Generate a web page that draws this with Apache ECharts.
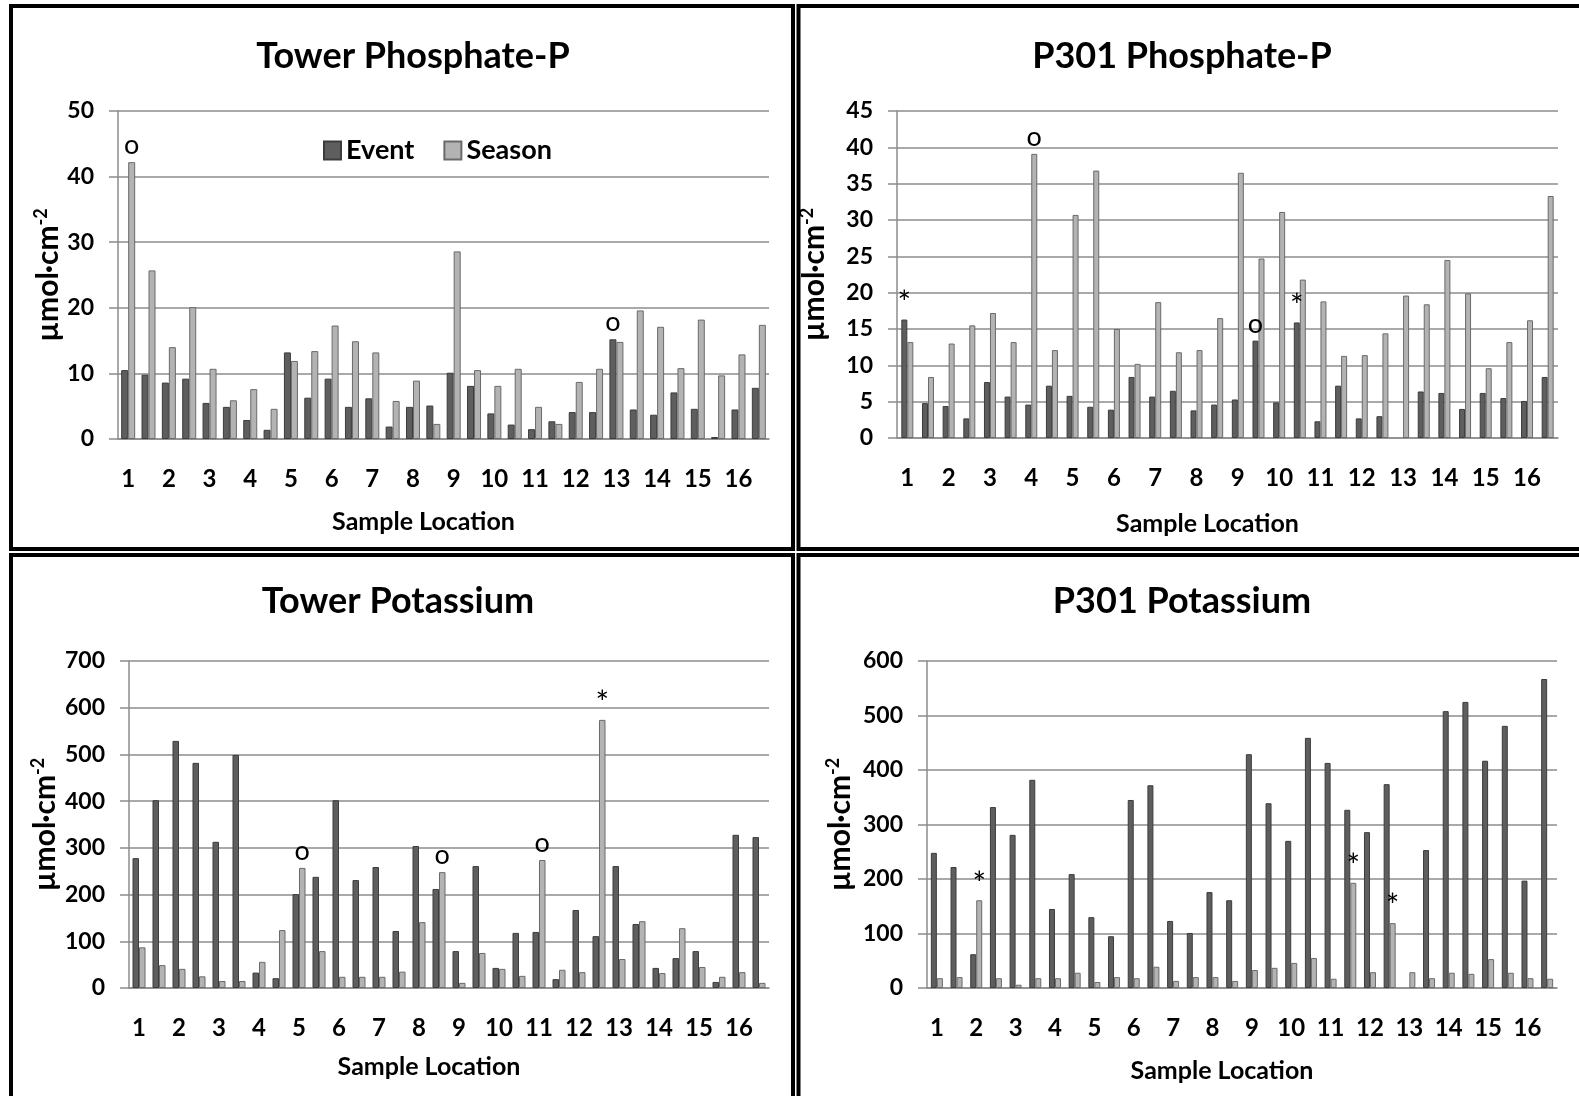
<!DOCTYPE html>
<html>
<head>
<meta charset="utf-8">
<script src="https://cdn.jsdelivr.net/npm/echarts@6.0.0/dist/echarts.min.js"></script>
<style>
  html, body { margin: 0; padding: 0; background: #fff; }
  #main { width: 1579px; height: 1096px; }
</style>
</head>
<body>
<div id="main"></div>
<script>
// 16 sample locations, two slots each
var locations = ['1','2','3','4','5','6','7','8','9','10','11','12','13','14','15','16'];

// Tower Phosphate-P
var towerP_event  = [10.5, 9.8, 8.6, 9.2, 5.5, 4.9, 2.9, 1.4, 13.2, 6.3, 9.2, 4.9, 6.2, 1.9, 4.9, 5.1,
                     10.1, 8.1, 3.9, 2.2, 1.5, 2.7, 4.1, 4.1, 15.2, 4.5, 3.7, 7.1, 4.6, 0.3, 4.5, 7.8];
var towerP_season = [42.2, 25.7, 14.0, 20.1, 10.7, 5.9, 7.6, 4.6, 11.9, 13.4, 17.3, 14.9, 13.2, 5.8, 8.9, 2.3,
                     28.6, 10.5, 8.1, 10.7, 4.9, 2.3, 8.7, 10.7, 14.8, 19.6, 17.1, 10.8, 18.2, 9.7, 12.9, 17.4];
var towerP_marks  = [[0, 'season', 'o'], [24, 'event', 'o']];

// P301 Phosphate-P
var p301P_event  = [16.3, 4.8, 4.4, 2.7, 7.7, 5.7, 4.6, 7.2, 5.8, 4.3, 3.9, 8.4, 5.7, 6.5, 3.8, 4.6,
                    5.3, 13.4, 4.9, 15.9, 2.3, 7.2, 2.7, 3.0, null, 6.4, 6.2, 4.0, 6.2, 5.5, 5.1, 8.4];
var p301P_season = [13.2, 8.4, 13.0, 15.5, 17.2, 13.2, 39.1, 12.1, 30.7, 36.8, 15.0, 10.2, 18.7, 11.8, 12.1, 16.5,
                    36.5, 24.7, 31.1, 21.8, 18.8, 11.3, 11.4, 14.4, 19.6, 18.4, 24.5, 19.9, 9.6, 13.2, 16.2, 33.3];
var p301P_marks  = [[0, 'event', '*'], [6, 'season', 'o'], [17, 'event', 'o'], [19, 'event', '*']];

// Tower Potassium
var towerK_event  = [278, 402, 529, 482, 313, 499, 33, 21, 201, 238, 402, 231, 259, 122, 304, 212,
                     79, 261, 43, 118, 120, 19, 167, 111, 261, 137, 43, 64, 79, 13, 328, 323];
var towerK_season = [87, 49, 41, 25, 15, 15, 56, 124, 257, 79, 24, 24, 24, 35, 141, 248,
                     11, 75, 41, 26, 274, 39, 34, 574, 62, 143, 32, 128, 45, 24, 34, 11];
var towerK_marks  = [[8, 'season', 'o'], [15, 'season', 'o'], [20, 'season', 'o'], [23, 'season', '*']];

// P301 Potassium
var p301K_event  = [248, 222, 62, 332, 281, 382, 145, 209, 130, 95, 345, 372, 123, 101, 176, 161,
                    429, 339, 270, 459, 413, 327, 286, 374, null, 253, 508, 525, 417, 481, 197, 567];
var p301K_season = [18, 20, 161, 18, 6, 18, 18, 28, 11, 20, 18, 39, 13, 20, 20, 13,
                    33, 37, 46, 55, 17, 193, 29, 119, 29, 18, 28, 26, 53, 28, 18, 17];
var p301K_marks  = [[2, 'season', '*'], [21, 'season', '*'], [23, 'season', '*']];

var FONT = 'Lato, "Noto Sans", sans-serif';
var GRID_COLOR = '#8c8c8c';

var categories = [];
locations.forEach(function (l) { categories.push(l, l); });

function withMarks(values, marks, which) {
	return values.map(function (v, i) {
		var m = marks.filter(function (k) { return k[0] === i && k[1] === which; })[0];
		if (!m) return v;
		return {
			value: v,
			label: {
				show: true, position: 'top', distance: m[2] === '*' ? 0 : 3,
				formatter: m[2], color: '#000',
				fontFamily: FONT, fontSize: m[2] === '*' ? 32 : 27
			}
		};
	});
}

function xAxis(gi, gap) {
	return {
		type: 'category', gridIndex: gi, data: categories,
		axisLine: { lineStyle: { color: GRID_COLOR, width: 1.5 } },
		axisTick: { interval: 0, length: 9, lineStyle: { color: GRID_COLOR, width: 1.5 } },
		axisLabel: { interval: 1, margin: 28, color: '#000', fontFamily: FONT, fontWeight: 'bold', fontSize: 24 },
		name: 'Sample Location', nameLocation: 'middle', nameGap: gap,
		nameTextStyle: { color: '#000', fontFamily: FONT, fontWeight: 'bold', fontSize: 25, padding: [0, 40, 0, 0] }
	};
}

function yAxis(gi, max, interval, gap) {
	return {
		type: 'value', gridIndex: gi, min: 0, max: max, interval: interval,
		axisLine: { show: true, lineStyle: { color: GRID_COLOR, width: 1.5 } },
		axisTick: { show: true, length: 9, lineStyle: { color: GRID_COLOR, width: 1.5 } },
		splitLine: { lineStyle: { color: GRID_COLOR, width: 1.5 } },
		axisLabel: { margin: 24, color: '#000', fontFamily: FONT, fontWeight: 'bold', fontSize: 23 },
		name: '{a|µmol·cm}{s|-2}', nameLocation: 'middle', nameRotate: 90, nameGap: gap,
		nameTextStyle: {
			rich: {
				a: { color: '#000', fontFamily: FONT, fontWeight: 'bold', fontSize: 30, lineHeight: 32 },
				s: { color: '#000', fontFamily: FONT, fontWeight: 'bold', fontSize: 18, verticalAlign: 'top', lineHeight: 32 }
			}
		}
	};
}

function bars(gi, name, values, marks, which, color, border, width) {
	return {
		name: name, type: 'bar', xAxisIndex: gi, yAxisIndex: gi,
		barWidth: width, barGap: '0%',
		itemStyle: { color: color, borderColor: border, borderWidth: 1 },
		data: withMarks(values, marks, which)
	};
}

var EVENT_C = '#5e5e5e', EVENT_B = '#3c3c3c';
var SEASON_C = '#b3b3b3', SEASON_B = '#6a6a6a';

function titleText(x, y, text) {
	return {
		type: 'text', x: x, y: y,
		style: { text: text, fill: '#000', font: 'bold 36px ' + FONT, textAlign: 'center', textVerticalAlign: 'middle' }
	};
}

var myChart = echarts.init(document.getElementById('main'));

option = {
	backgroundColor: '#fff',
	animation: false,
	legend: {
		data: ['Event', 'Season'],
		icon: 'rect',
		left: 318, top: 132,
		itemWidth: 17, itemHeight: 18, itemGap: 29,
		textStyle: { color: '#000', fontFamily: FONT, fontWeight: 'bold', fontSize: 27 }
	},
	grid: [
		{ left: 118, top: 111, width: 651, height: 328 },
		{ left: 897, top: 111, width: 661, height: 327 },
		{ left: 129, top: 661, width: 640, height: 327 },
		{ left: 927, top: 661, width: 630, height: 327 }
	],
	xAxis: [xAxis(0, 70), xAxis(1, 73), xAxis(2, 66), xAxis(3, 70)],
	yAxis: [yAxis(0, 50, 10, 54), yAxis(1, 45, 5, 67), yAxis(2, 700, 100, 68), yAxis(3, 600, 100, 71)],
	series: [
		bars(0, 'Event', towerP_event, towerP_marks, 'event', EVENT_C, EVENT_B, 7),
		bars(0, 'Season', towerP_season, towerP_marks, 'season', SEASON_C, SEASON_B, 7),
		bars(1, 'Event', p301P_event, p301P_marks, 'event', EVENT_C, EVENT_B, 6),
		bars(1, 'Season', p301P_season, p301P_marks, 'season', SEASON_C, SEASON_B, 6),
		bars(2, 'Event', towerK_event, towerK_marks, 'event', EVENT_C, EVENT_B, 6.5),
		bars(2, 'Season', towerK_season, towerK_marks, 'season', SEASON_C, SEASON_B, 6.5),
		bars(3, 'Event', p301K_event, p301K_marks, 'event', EVENT_C, EVENT_B, 6),
		bars(3, 'Season', p301K_season, p301K_marks, 'season', SEASON_C, SEASON_B, 6)
	],
	graphic: [
		// panel frames
		{ type: 'rect', shape: { x: 11, y: 6, width: 782, height: 543 }, style: { fill: null, stroke: '#000', lineWidth: 4 } },
		{ type: 'rect', shape: { x: 798.5, y: 6, width: 800, height: 543 }, style: { fill: null, stroke: '#000', lineWidth: 4 } },
		{ type: 'rect', shape: { x: 11, y: 555, width: 782, height: 600 }, style: { fill: null, stroke: '#000', lineWidth: 4 } },
		{ type: 'rect', shape: { x: 798.5, y: 555, width: 800, height: 600 }, style: { fill: null, stroke: '#000', lineWidth: 4 } },
		titleText(413, 56, 'Tower Phosphate-P'),
		titleText(1182, 56, 'P301 Phosphate-P'),
		titleText(398, 601, 'Tower Potassium'),
		titleText(1182, 601, 'P301 Potassium')
	]
};
myChart.setOption(option);
</script>
</body>
</html>
